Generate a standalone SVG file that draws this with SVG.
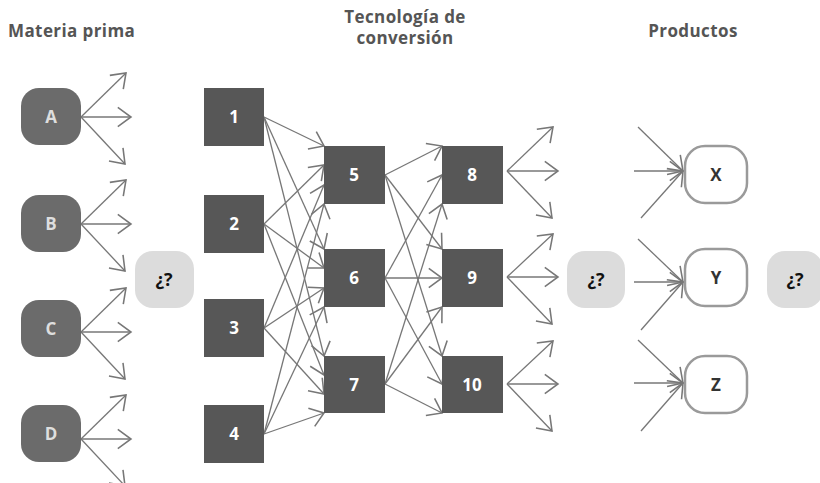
<svg xmlns="http://www.w3.org/2000/svg" width="820" height="483" viewBox="0 0 820 483">
<style>
.hdr{font-family:"Open Sans","Liberation Sans",sans-serif;font-weight:bold;font-size:17px;letter-spacing:0.4px;fill:#555;}
.raw rect{fill:#6b6b6b;}
.raw text{font-family:"Open Sans","Liberation Sans",sans-serif;font-weight:bold;font-size:17px;fill:#dedede;text-anchor:middle;}
.tec rect{fill:#575757;}
.tec text{font-family:"Open Sans","Liberation Sans",sans-serif;font-weight:bold;font-size:17px;fill:#fff;text-anchor:middle;}
.q rect{fill:#dcdcdc;}
.q text{font-family:"Open Sans","Liberation Sans",sans-serif;font-weight:bold;font-size:18px;fill:#111;text-anchor:middle;}
.prod rect{fill:#fff;stroke:#9a9a9a;stroke-width:2.5;}
.prod text{font-family:"Open Sans","Liberation Sans",sans-serif;font-weight:bold;font-size:17px;fill:#333;text-anchor:middle;}
#connectors path{fill:none;stroke:#777;stroke-width:1.3;marker-end:url(#ah);}
</style>
<defs>
<marker id="ah" markerUnits="userSpaceOnUse" markerWidth="24" markerHeight="24" viewBox="-12 -10 14 20" refX="0" refY="0" orient="auto">
<path d="M-11,-8 L0,0 L-11,8" fill="none" stroke="#777" stroke-width="1.3"/>
</marker>
</defs>
<rect width="820" height="483" fill="#fff"/>
<text class="hdr" x="8" y="37">Materia prima</text>
<text class="hdr" x="405" y="23" text-anchor="middle">Tecnología de</text>
<text class="hdr" x="405" y="44" text-anchor="middle">conversión</text>
<text class="hdr" x="693" y="37" text-anchor="middle">Productos</text>

<g id="connectors">
<path d="M81,117 L126,73"/><path d="M81,117 L131,117"/><path d="M81,117 L125,164"/>
<path d="M81,224 L126,180"/><path d="M81,224 L131,224"/><path d="M81,224 L125,271"/>
<path d="M81,332 L126,288"/><path d="M81,332 L131,332"/><path d="M81,332 L125,379"/>
<path d="M81,439 L126,395"/><path d="M81,439 L131,439"/><path d="M81,439 L125,486"/>
<path d="M264,117 L324,146"/><path d="M264,117 L324,249"/><path d="M264,117 L324,356"/>
<path d="M264,224 L324,165"/><path d="M264,224 L324,268"/><path d="M264,224 L324,375"/>
<path d="M264,328 L324,185"/><path d="M264,328 L324,288"/><path d="M264,328 L324,394"/>
<path d="M264,434 L324,204"/><path d="M264,434 L324,307"/><path d="M264,434 L324,413"/>
<path d="M385,175 L442,146"/><path d="M385,175 L442,249"/><path d="M385,175 L442,356"/>
<path d="M385,278 L442,175"/><path d="M385,278 L442,278"/><path d="M385,278 L442,384"/>
<path d="M385,384 L442,204"/><path d="M385,384 L442,307"/><path d="M385,384 L442,413"/>
<path d="M507,171 L553,127"/><path d="M507,171 L558,171"/><path d="M507,171 L552,218"/>
<path d="M507,277 L553,234"/><path d="M507,277 L558,277"/><path d="M507,277 L552,324"/>
<path d="M507,384 L553,341"/><path d="M507,384 L558,384"/><path d="M507,384 L552,431"/>
<path d="M638,127 L683,171"/><path d="M634,171 L683,171"/><path d="M641,218 L683,171"/>
<path d="M638,239 L683,282"/><path d="M634,282 L683,282"/><path d="M641,330 L683,282"/>
<path d="M638,340 L683,383"/><path d="M634,383 L683,383"/><path d="M641,431 L683,383"/>
</g>

<g id="nA" class="raw"><rect x="21" y="88" width="60" height="57" rx="18"/><text x="51" y="123">A</text></g>
<g id="nB" class="raw"><rect x="21" y="195" width="60" height="57" rx="18"/><text x="51" y="230">B</text></g>
<g id="nC" class="raw"><rect x="21" y="300" width="60" height="57" rx="18"/><text x="51" y="335">C</text></g>
<g id="nD" class="raw"><rect x="21" y="405" width="60" height="57" rx="18"/><text x="51" y="440">D</text></g>

<g id="q1" class="q"><rect x="135" y="251" width="59" height="57" rx="18"/><text x="164" y="286">¿?</text></g>

<g id="n1" class="tec"><rect x="204" y="88" width="60" height="58"/><text x="234" y="123">1</text></g>
<g id="n2" class="tec"><rect x="204" y="195" width="60" height="58"/><text x="234" y="230">2</text></g>
<g id="n3" class="tec"><rect x="204" y="299" width="60" height="58"/><text x="234" y="334">3</text></g>
<g id="n4" class="tec"><rect x="204" y="405" width="60" height="58"/><text x="234" y="440">4</text></g>

<g id="n5" class="tec"><rect x="324" y="146" width="61" height="58"/><text x="354" y="181">5</text></g>
<g id="n6" class="tec"><rect x="324" y="249" width="61" height="58"/><text x="354" y="284">6</text></g>
<g id="n7" class="tec"><rect x="324" y="356" width="61" height="57"/><text x="354" y="391">7</text></g>

<g id="n8" class="tec"><rect x="442" y="146" width="61" height="58"/><text x="472" y="181">8</text></g>
<g id="n9" class="tec"><rect x="442" y="249" width="61" height="58"/><text x="472" y="284">9</text></g>
<g id="n10" class="tec"><rect x="442" y="356" width="61" height="57"/><text x="472" y="391">10</text></g>

<g id="q2" class="q"><rect x="567" y="251" width="58" height="57" rx="18"/><text x="596" y="286">¿?</text></g>

<g id="nX" class="prod"><rect x="685" y="146" width="62" height="57" rx="20"/><text x="716" y="181">X</text></g>
<g id="nY" class="prod"><rect x="685" y="249" width="62" height="57" rx="20"/><text x="716" y="284">Y</text></g>
<g id="nZ" class="prod"><rect x="685" y="356" width="62" height="57" rx="20"/><text x="716" y="391">Z</text></g>

<g id="q3" class="q"><rect x="767" y="251" width="56" height="57" rx="18"/><text x="795" y="286">¿?</text></g>
</svg>
